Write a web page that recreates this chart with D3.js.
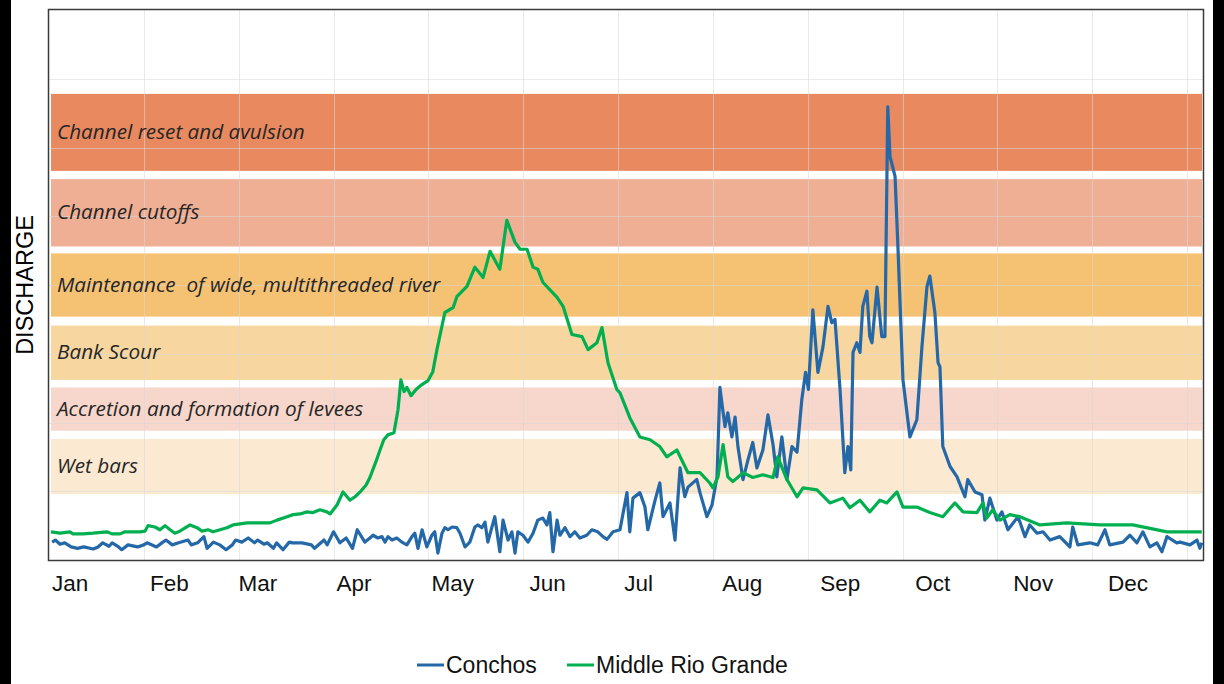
<!DOCTYPE html>
<html><head><meta charset="utf-8">
<script src="https://cdn.jsdelivr.net/npm/d3@7"></script>
<style>
html,body{margin:0;padding:0;background:#fff;}
svg{display:block;}
</style></head>
<body>
<svg id="chart" width="1224" height="684"></svg>
<script>
// ---- data ----
const monthLabels = ["Jan","Feb","Mar","Apr","May","Jun","Jul","Aug","Sep","Oct","Nov","Dec"];
const monthStartDays = [0,31,59,90,120,151,181,212,243,273,304,334];
const bandNames = ["Channel reset and avulsion","Channel cutoffs","Maintenance  of wide, multithreaded river","Bank Scour","Accretion and formation of levees","Wet bars"];
const bandLow  = [5.66, 4.56, 3.54, 2.62, 1.88, 0.96];
const bandHigh = [6.78, 5.54, 4.46, 3.41, 2.51, 1.76];
const bandColors = ["#e8895f","#efaf95","#f5c274","#f8d6a0","#f7d6cb","#fbe9d1"];
const seriesNames = ["Conchos","Middle Rio Grande"];
const seriesColors = ["#2468a8","#00b050"];

// Conchos discharge: [day of year, discharge]
const conchos = [
[1,0.26],[2,0.29],[3.5,0.23],[5,0.25],[7,0.19],[9,0.17],[11,0.19],[14,0.16],[15.5,0.19],[17,0.25],[19,0.20],[20,0.25],[22,0.19],[23,0.15],[25,0.22],[28,0.19],[30,0.22],[31,0.25],[34,0.19],[36,0.26],[37,0.29],[39,0.22],[41,0.25],[44,0.29],[45,0.22],[47,0.25],[49,0.34],[50,0.17],[52,0.26],[54,0.22],[56,0.15],[58,0.22],[59,0.29],[61,0.26],[63,0.32],[65,0.25],[66,0.29],[68,0.23],[69,0.25],[71,0.17],[72,0.25],[74,0.15],[76,0.26],[77,0.25],[80,0.25],[83,0.22],[84,0.17],[86,0.25],[87,0.29],[88,0.22],[90,0.41],[92,0.25],[94,0.32],[96,0.17],[97.5,0.44],
[99.9,0.26],[101.5,0.32],[102.5,0.36],[104,0.32],[105.3,0.34],[106.3,0.26],[107.2,0.34],[108.5,0.29],[110,0.32],[111.6,0.26],[113.2,0.22],[114.8,0.34],[115.7,0.39],[116.7,0.17],[118,0.44],[119.5,0.19],[121.1,0.36],[122,0.41],[123,0.10],[124.3,0.39],[125.2,0.47],[126.2,0.44],[127.5,0.48],[129,0.47],[130,0.39],[131.6,0.19],[133.1,0.26],[134.7,0.48],[135.7,0.51],[136.9,0.47],[137.9,0.55],[138.8,0.26],[141,0.63],[142.6,0.12],[143.6,0.58],[145.2,0.29],[146.4,0.41],[147.4,0.10],[148.3,0.41],[149.9,0.36],[151.5,0.26],[153.1,0.39],[154.6,0.58],[156.2,0.61],[157.5,0.51],[158.4,0.69],[159.4,0.12],[160.7,0.58],[161.6,0.36],[163.2,0.47],[164.8,0.34],[166.3,0.41],[167.9,0.32],[170.1,0.36],[171.7,0.44],[173.6,0.41],[175.2,0.34],[176.5,0.30],[178.4,0.41],[180.6,0.44],
[182.8,0.98],[183.7,0.41],[184.7,0.90],[186.9,0.98],[188.5,0.77],[189.4,0.44],[191.7,0.87],[193.2,1.12],[194.2,0.63],[196.4,0.83],[198,0.29],[199.6,1.34],[201.1,0.92],[202.1,1.06],[204.9,1.17],[205.9,0.98],[208.1,0.63],[209.7,0.80],[211.3,1.21],[212.2,2.51],[213.8,1.94],[214.7,2.14],[216,1.79],[217,2.08],[217.9,1.65],[219.5,1.17],[221.1,1.46],[222.6,1.71],[223.9,1.34],[225.8,1.60],[227.4,2.11],[229,1.68],[230.2,1.21],[231.8,1.79],[233.4,1.17],[235,1.65],[236.6,1.57],[238.1,2.33],[239.3,2.73],[240.2,2.48],[241.6,3.64],[243.2,2.73],[244.8,3.10],[246.4,3.69],[247.6,3.45],[248.6,3.50],[250.2,2.48],[251.7,1.27],[252.7,1.65],[253.6,1.31],[254.3,3.02],[255.5,3.16],[256.5,3.02],[257.4,3.69],[258.7,3.91],[259.6,3.25],[260.3,3.16],[261.9,3.97],[263.4,3.25],[264.4,3.25],[265.3,6.59],[266,5.87],[267.6,5.58],[268.5,4.56],[270.1,2.62],[272.3,1.79],[274.5,2.04],[276.1,3.10],[277.7,3.98],[278.6,4.13],[280.2,3.60],[281.2,2.87],[281.8,2.81],[282.7,1.65],[285,1.36],[287.2,1.21],[289.7,0.92],[290.6,1.17],[292.9,0.99],[295.1,0.95],[296,0.58],[297.6,0.90],[299.8,0.58],[301.4,0.70],[303.3,0.44],[306.5,0.63],[308.7,0.34],[310.2,0.51],[312.5,0.39],[314.4,0.41],[316.6,0.29],[319.7,0.34],[322.9,0.19],[323.8,0.48],[325.4,0.22],[329.2,0.25],[331.7,0.22],[334,0.44],[335.5,0.22],[339.7,0.26],[341.9,0.36],[344.1,0.25],[346,0.41],[348.2,0.19],[350.4,0.25],[352,0.12],[353.6,0.34],[356.7,0.25],[357.7,0.26],[360.9,0.22],[363.1,0.29],[364,0.17],[364.6,0.25]
];

// Middle Rio Grande discharge: [day of year, discharge]
const rioGrande = [
[0.6,0.41],[3.5,0.39],[6.6,0.41],[7.6,0.38],[10.8,0.38],[13.9,0.39],[18.3,0.41],[19.9,0.38],[22.5,0.38],[24,0.41],[28.8,0.41],[30.4,0.42],[31.3,0.50],[33.5,0.48],[35.1,0.44],[36.7,0.50],[38.3,0.44],[39.8,0.39],[41.4,0.42],[44.6,0.51],[46.8,0.47],[48.4,0.42],[50.3,0.44],[51.9,0.41],[56.3,0.47],[58.2,0.51],[62.6,0.54],[64.5,0.54],[66.7,0.54],[69.9,0.54],[72.1,0.58],[75.3,0.63],[77.2,0.66],[79.4,0.67],[81.6,0.70],[83.5,0.69],[85.7,0.73],[87.9,0.70],[88.9,0.67],[91.1,0.80],[93,0.99],[95.2,0.87],[96.8,0.92],[98.4,0.99],[100.3,1.09],[101.5,1.20],[103.4,1.43],[104.7,1.60],[105.9,1.75],[107.2,1.82],[109.1,1.85],[110.4,2.19],[111.3,2.62],[112.3,2.45],[113.2,2.51],[114.5,2.39],[116.1,2.48],[117.6,2.54],[119.9,2.61],[121.4,2.74],[122.7,3.06],[125.2,3.60],[127.8,3.67],[129,3.83],[132.2,3.98],[134.7,4.26],[137.3,4.11],[139.5,4.49],[142.6,4.23],[144.8,4.94],[147.4,4.62],[149,4.52],[151.2,4.52],[153.1,4.26],[154.6,4.23],[156.2,4.04],[160.7,3.82],[162.6,3.69],[165.4,3.28],[168.6,3.25],[170.5,3.06],[173.3,3.16],[174.9,3.38],[176.8,2.87],[179.6,2.48],[180.6,2.43],[183.7,2.07],[186.9,1.79],[190.1,1.75],[193.2,1.65],[195.4,1.50],[198.6,1.60],[202.1,1.27],[205.9,1.27],[209,1.12],[210,1.05],[211.6,1.21],[213.2,1.68],[214.7,1.21],[216.3,1.14],[219.5,1.27],[222.6,1.20],[225.8,1.24],[229,1.20],[230.5,1.50],[233.4,1.17],[236.6,0.92],[238.5,1.05],[242.9,1.02],[247,0.83],[251.1,0.90],[253.3,0.76],[256.5,0.87],[259.6,0.70],[262.8,0.87],[265,0.83],[268.2,0.99],[270.1,0.77],[274.5,0.77],[278.6,0.69],[282.7,0.63],[286.5,0.83],[289.1,0.70],[293.5,0.69],[295.4,0.83],[296.6,0.61],[298.5,0.73],[300.8,0.58],[303.9,0.66],[307.1,0.63],[313.4,0.51],[321.9,0.54],[332.4,0.51],[342.8,0.51],[353.6,0.41],[364.6,0.41]
];

// ---- layout ----
const svg = d3.select("#chart");
const W = 1224, H = 684;
const m = {left: 49, right: 1203, top: 10, bottom: 560};
const x = d3.scaleLinear().domain([0, 365]).range([m.left, m.right]);
const y = d3.scaleLinear().domain([0, 8]).range([m.bottom, m.top]);

svg.append("rect").attr("width", W).attr("height", H).attr("fill", "#fff");
// dark side strips of the original picture
svg.append("rect").attr("x", 0).attr("y", 0).attr("width", 11).attr("height", H).attr("fill", "#000");
svg.append("rect").attr("x", 1213).attr("y", 0).attr("width", W - 1213).attr("height", H).attr("fill", "#000");

// bands
const bands = svg.append("g");
bandNames.forEach((name, i) => {
  bands.append("rect")
    .attr("x", x(0) + 2).attr("width", x(365) - x(0) - 3)
    .attr("y", y(bandHigh[i])).attr("height", y(bandLow[i]) - y(bandHigh[i]))
    .attr("fill", bandColors[i]);
});

// gridlines
const grid = svg.append("g").attr("stroke", "#d9d9d9").attr("stroke-opacity", 0.55).attr("stroke-width", 1);
d3.range(30, 365, 30).forEach(d => {
  grid.append("line").attr("x1", Math.round(x(d)) + 0.5).attr("x2", Math.round(x(d)) + 0.5)
    .attr("y1", m.top).attr("y2", m.bottom);
});
d3.range(1, 8).forEach(v => {
  grid.append("line").attr("y1", Math.round(y(v)) + 0.5).attr("y2", Math.round(y(v)) + 0.5)
    .attr("x1", m.left).attr("x2", m.right);
});

// band labels
const bandLabels = svg.append("g")
  .attr("font-family", "'Open Sans', Lato, sans-serif")
  .attr("font-style", "italic")
  .attr("font-size", 19)
  .attr("fill", "#262626");
bandNames.forEach((name, i) => {
  bandLabels.append("text")
    .attr("x", 57)
    .attr("y", (y(bandHigh[i]) + y(bandLow[i])) / 2 + 6.5)
    .style("white-space", "pre")
    .text(name);
});
// fit label size so the first label spans the same width as in the original
const w0 = bandLabels.select("text").node().getComputedTextLength();
if (w0 > 0) bandLabels.attr("font-size", 19 * 248 / w0);

// lines
const line = d3.line().x(d => x(d[0])).y(d => y(d[1]));
svg.append("path").datum(conchos).attr("d", line)
  .attr("fill", "none").attr("stroke", seriesColors[0]).attr("stroke-width", 3.2)
  .attr("stroke-linejoin", "round");
svg.append("path").datum(rioGrande).attr("d", line)
  .attr("fill", "none").attr("stroke", seriesColors[1]).attr("stroke-width", 3.2)
  .attr("stroke-linejoin", "round");

// plot border
svg.append("rect").attr("x", m.left - 0.5).attr("y", m.top - 0.5)
  .attr("width", m.right - m.left + 1).attr("height", m.bottom - m.top + 1)
  .attr("fill", "none").attr("stroke", "#3a3a3a").attr("stroke-width", 1.5);

// month labels
monthLabels.forEach((lab, i) => {
  svg.append("text")
    .attr("x", x(monthStartDays[i]) + 3)
    .attr("y", 591)
    .attr("font-family", "'Liberation Sans', Arial, sans-serif")
    .attr("font-size", 22.5)
    .attr("fill", "#111")
    .text(lab);
});

// y-axis title
svg.append("text")
  .attr("transform", "translate(33,285) rotate(-90)")
  .attr("text-anchor", "middle")
  .attr("font-family", "'Liberation Sans', Arial, sans-serif")
  .attr("font-size", 23.5)
  .attr("fill", "#000")
  .text("DISCHARGE");

// legend
const legend = svg.append("g");
const legX = [417, 567];
seriesNames.forEach((n, i) => {
  legend.append("line").attr("x1", legX[i]).attr("x2", legX[i] + 27)
    .attr("y1", 665).attr("y2", 665)
    .attr("stroke", seriesColors[i]).attr("stroke-width", 3);
  legend.append("text").attr("x", legX[i] + 29).attr("y", 672.5)
    .attr("font-family", "'Liberation Sans', Arial, sans-serif")
    .attr("font-size", 23).attr("fill", "#111")
    .text(n);
});
</script>
</body></html>
